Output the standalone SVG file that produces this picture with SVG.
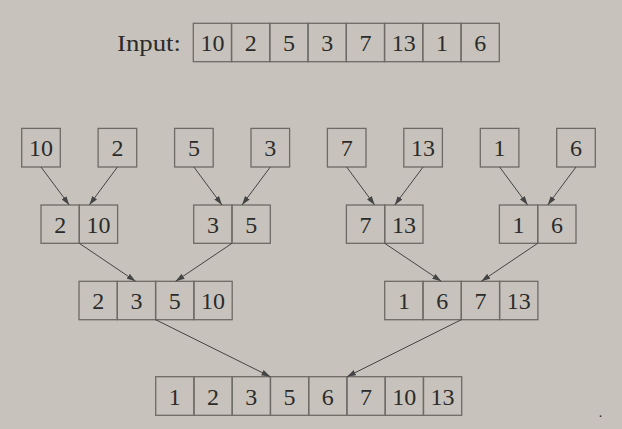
<svg xmlns="http://www.w3.org/2000/svg" width="622" height="429" viewBox="0 0 622 429">
<defs>
<style>
.c{fill:none;stroke:#6e6b66;stroke-width:1.3}
text{font-family:'Liberation Serif','Times New Roman',serif;font-size:24px;fill:#2b2b2b;text-anchor:middle}
.e{stroke:#444;stroke-width:1;fill:none;marker-end:url(#ah)}
</style>
<marker id="ah" markerUnits="userSpaceOnUse" markerWidth="9" markerHeight="7" refX="9" refY="3.5" orient="auto">
<path d="M0,0.6 L9,3.5 L0,6.4 Z" fill="#444"/>
</marker>
</defs>
<rect width="622" height="429" fill="#c7c3bc"/>

<g id="input">
<text x="149" y="51" textLength="64" lengthAdjust="spacingAndGlyphs">Input:</text>
<rect class="c" x="193.3" y="23.3" width="38.25" height="38.4"/>
<rect class="c" x="231.55" y="23.3" width="38.25" height="38.4"/>
<rect class="c" x="269.8" y="23.3" width="38.25" height="38.4"/>
<rect class="c" x="308.05" y="23.3" width="38.25" height="38.4"/>
<rect class="c" x="346.3" y="23.3" width="38.25" height="38.4"/>
<rect class="c" x="384.55" y="23.3" width="38.25" height="38.4"/>
<rect class="c" x="422.8" y="23.3" width="38.25" height="38.4"/>
<rect class="c" x="461.05" y="23.3" width="38.25" height="38.4"/>
<text x="212.4" y="51">10</text>
<text x="250.7" y="51">2</text>
<text x="288.9" y="51">5</text>
<text x="327.2" y="51">3</text>
<text x="365.4" y="51">7</text>
<text x="403.7" y="51">13</text>
<text x="441.9" y="51">1</text>
<text x="480.2" y="51">6</text>
</g>

<g id="leaf-10"><rect class="c" x="21.7" y="128.4" width="38.6" height="38.6"/><text x="41" y="156.3">10</text></g>
<g id="leaf-2"><rect class="c" x="98.1" y="128.4" width="38.6" height="38.6"/><text x="117.4" y="156.3">2</text></g>
<g id="leaf-5"><rect class="c" x="174.6" y="128.4" width="38.6" height="38.6"/><text x="193.9" y="156.3">5</text></g>
<g id="leaf-3"><rect class="c" x="251" y="128.4" width="38.6" height="38.6"/><text x="270.3" y="156.3">3</text></g>
<g id="leaf-7"><rect class="c" x="327.4" y="128.4" width="38.6" height="38.6"/><text x="346.7" y="156.3">7</text></g>
<g id="leaf-13"><rect class="c" x="403.8" y="128.4" width="38.6" height="38.6"/><text x="423.1" y="156.3">13</text></g>
<g id="leaf-1"><rect class="c" x="480.3" y="128.4" width="38.6" height="38.6"/><text x="499.6" y="156.3">1</text></g>
<g id="leaf-6"><rect class="c" x="556.7" y="128.4" width="38.6" height="38.6"/><text x="576" y="156.3">6</text></g>

<g id="m-2-10">
<rect class="c" x="41" y="205" width="38.3" height="38.3"/><rect class="c" x="79.3" y="205" width="38.3" height="38.3"/>
<text x="60.2" y="232.8">2</text><text x="98.5" y="232.8">10</text>
</g>
<g id="m-3-5">
<rect class="c" x="193.7" y="205" width="38.3" height="38.3"/><rect class="c" x="232" y="205" width="38.3" height="38.3"/>
<text x="212.9" y="232.8">3</text><text x="251.2" y="232.8">5</text>
</g>
<g id="m-7-13">
<rect class="c" x="346.4" y="205" width="38.3" height="38.3"/><rect class="c" x="384.7" y="205" width="38.3" height="38.3"/>
<text x="365.6" y="232.8">7</text><text x="403.9" y="232.8">13</text>
</g>
<g id="m-1-6">
<rect class="c" x="499.4" y="205" width="38.3" height="38.3"/><rect class="c" x="537.7" y="205" width="38.3" height="38.3"/>
<text x="518.6" y="232.8">1</text><text x="556.9" y="232.8">6</text>
</g>

<g id="m-2-3-5-10">
<rect class="c" x="79" y="281.3" width="38.3" height="38.4"/><rect class="c" x="117.3" y="281.3" width="38.3" height="38.4"/>
<rect class="c" x="155.6" y="281.3" width="38.3" height="38.4"/><rect class="c" x="193.9" y="281.3" width="38.3" height="38.4"/>
<text x="98.2" y="309">2</text><text x="136.5" y="309">3</text>
<text x="174.8" y="309">5</text><text x="213.1" y="309">10</text>
</g>
<g id="m-1-6-7-13">
<rect class="c" x="384.7" y="281.3" width="38.3" height="38.4"/><rect class="c" x="423" y="281.3" width="38.3" height="38.4"/>
<rect class="c" x="461.3" y="281.3" width="38.3" height="38.4"/><rect class="c" x="499.6" y="281.3" width="38.3" height="38.4"/>
<text x="403.9" y="309">1</text><text x="442.2" y="309">6</text>
<text x="480.5" y="309">7</text><text x="518.8" y="309">13</text>
</g>

<g id="result">
<rect class="c" x="155.7" y="376.7" width="38.25" height="38.6"/><rect class="c" x="193.95" y="376.7" width="38.25" height="38.6"/>
<rect class="c" x="232.2" y="376.7" width="38.25" height="38.6"/><rect class="c" x="270.45" y="376.7" width="38.25" height="38.6"/>
<rect class="c" x="308.7" y="376.7" width="38.25" height="38.6"/><rect class="c" x="346.95" y="376.7" width="38.25" height="38.6"/>
<rect class="c" x="385.2" y="376.7" width="38.25" height="38.6"/><rect class="c" x="423.45" y="376.7" width="38.25" height="38.6"/>
<text x="174.8" y="404.6">1</text><text x="213.1" y="404.6">2</text>
<text x="251.3" y="404.6">3</text><text x="289.6" y="404.6">5</text>
<text x="327.8" y="404.6">6</text><text x="366.1" y="404.6">7</text>
<text x="404.3" y="404.6">10</text><text x="442.6" y="404.6">13</text>
</g>

<g id="connectors">
<line class="e" x1="41" y1="167" x2="69.3" y2="205"/>
<line class="e" x1="117.4" y1="167" x2="89.3" y2="205"/>
<line class="e" x1="193.9" y1="167" x2="222" y2="205"/>
<line class="e" x1="270.3" y1="167" x2="242" y2="205"/>
<line class="e" x1="346.7" y1="167" x2="374.7" y2="205"/>
<line class="e" x1="423.1" y1="167" x2="394.7" y2="205"/>
<line class="e" x1="499.6" y1="167" x2="527.7" y2="205"/>
<line class="e" x1="576" y1="167" x2="547.7" y2="205"/>
<line class="e" x1="79.3" y1="243.3" x2="135.6" y2="281.3"/>
<line class="e" x1="232" y1="243.3" x2="175.6" y2="281.3"/>
<line class="e" x1="384.7" y1="243.3" x2="441.3" y2="281.3"/>
<line class="e" x1="537.7" y1="243.3" x2="481.3" y2="281.3"/>
<line class="e" x1="155.6" y1="319.7" x2="270.4" y2="376.7"/>
<line class="e" x1="461.3" y1="319.7" x2="347" y2="376.7"/>
</g>

<text x="600.5" y="417" style="font-size:14px">.</text>
</svg>
